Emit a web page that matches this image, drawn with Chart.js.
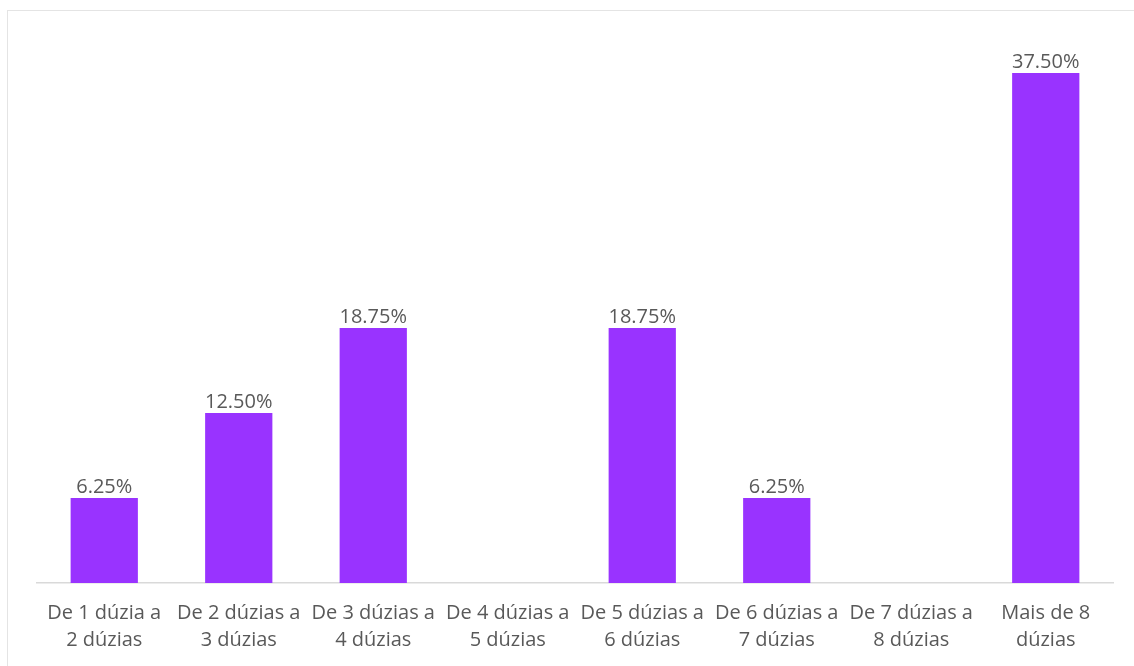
<!DOCTYPE html>
<html>
<head>
<meta charset="utf-8">
<script src="https://cdn.jsdelivr.net/npm/chart.js@4"></script>
<style>
  html, body { margin: 0; padding: 0; background: #ffffff; overflow: hidden; }
  #wrap { position: relative; width: 1134px; height: 666px; }
  #frame { position: absolute; left: 7px; top: 10px; width: 1160px; height: 700px;
           border: 1.5px solid #e4e4e4; box-sizing: border-box; }
  canvas { position: absolute; left: 0; top: 0; }
</style>
</head>
<body>
<div id="wrap">
  <div id="frame"></div>
  <canvas id="c" width="1134" height="666"></canvas>
</div>
<script>
// Faixas de quantidade (categorias do eixo X)
const categories = [
  ["De 1 dúzia a", "2 dúzias"],
  ["De 2 dúzias a", "3 dúzias"],
  ["De 3 dúzias a", "4 dúzias"],
  ["De 4 dúzias a", "5 dúzias"],
  ["De 5 dúzias a", "6 dúzias"],
  ["De 6 dúzias a", "7 dúzias"],
  ["De 7 dúzias a", "8 dúzias"],
  ["Mais de 8", "dúzias"]
];
// Percentual de respostas por faixa
const percentages = [6.25, 12.50, 18.75, 0, 18.75, 6.25, 0, 37.50];

const FONT = "'Open Sans', 'Noto Sans', sans-serif";

// Rótulos de valor acima das barras (apenas barras não vazias)
const valueLabels = {
  id: 'valueLabels',
  afterDatasetsDraw(chart) {
    const ctx = chart.ctx;
    const meta = chart.getDatasetMeta(0);
    ctx.save();
    ctx.font = '20px ' + FONT;
    ctx.fillStyle = '#595959';
    ctx.textAlign = 'center';
    ctx.textBaseline = 'alphabetic';
    meta.data.forEach((bar, i) => {
      const v = percentages[i];
      if (!v) return;
      ctx.fillText(v.toFixed(2) + '%', bar.x, bar.y - 5);
    });
    ctx.restore();
  }
};

new Chart(document.getElementById('c'), {
  type: 'bar',
  data: {
    labels: categories,
    datasets: [{
      data: percentages,
      backgroundColor: '#9933ff',
      borderWidth: 0,
      categoryPercentage: 1.0,
      barPercentage: 0.5
    }]
  },
  options: {
    responsive: false,
    animation: false,
    devicePixelRatio: 1,
    layout: { padding: { left: 37, right: 21, top: 39, bottom: 0 } },
    plugins: { legend: { display: false }, tooltip: { enabled: false } },
    scales: {
      x: {
        grid: { display: false, drawTicks: false },
        border: { display: true, color: '#d9d9d9', width: 1.5 },
        ticks: {
          color: '#595959',
          font: { family: FONT, size: 20, lineHeight: 1.35 },
          padding: 17,
          maxRotation: 0,
          autoSkip: false
        },
        afterFit(scale) { scale.height = 83; }
      },
      y: {
        display: false,
        min: 0,
        max: 40
      }
    }
  },
  plugins: [valueLabels]
});
</script>
</body>
</html>
